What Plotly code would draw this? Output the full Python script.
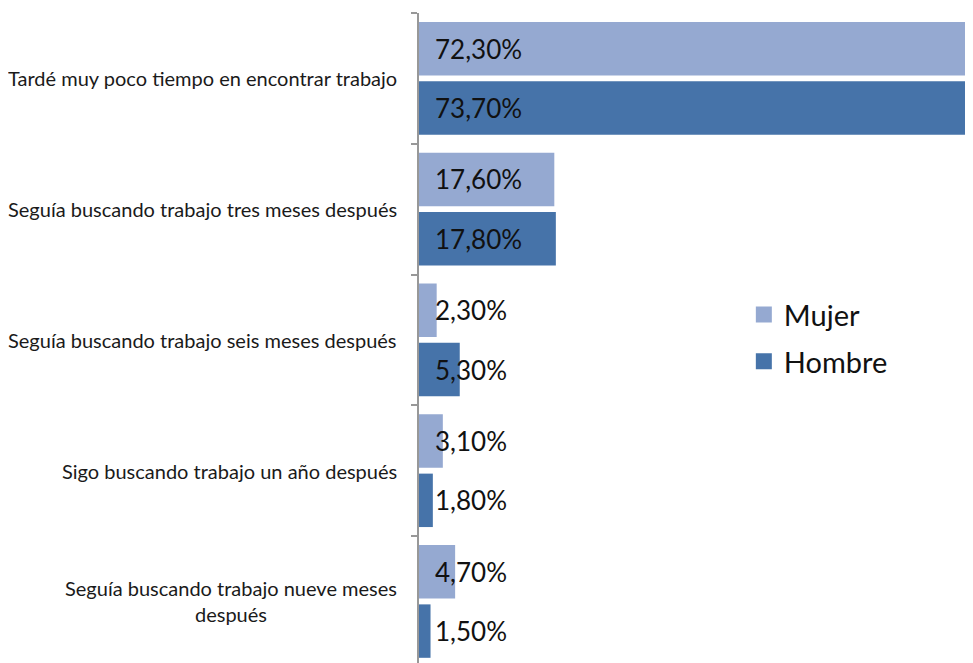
import plotly.graph_objects as go

categories = [
    "Tardé muy poco tiempo en encontrar trabajo",
    "Seguía buscando trabajo tres meses después",
    "Seguía buscando trabajo seis meses después",
    "Sigo buscando trabajo un año después",
    "Seguía buscando trabajo nueve meses<br>después",
]
mujer = [72.3, 17.6, 2.3, 3.1, 4.7]
hombre = [73.7, 17.8, 5.3, 1.8, 1.5]
series_names = ["Mujer", "Hombre"]
colors = ["#95A9D1", "#4673A9"]

FONT = "Lato"

def fmt(v):
    return f"{v:.2f}".replace(".", ",") + "%"

fig = go.Figure()
for name, vals, col in zip(series_names, [mujer, hombre], colors):
    fig.add_trace(go.Bar(
        y=categories, x=vals, orientation="h", name=name,
        marker=dict(color=col, line=dict(width=0)),
        showlegend=False, hoverinfo="skip",
    ))
for name, col in zip(series_names, colors):
    fig.add_trace(go.Scatter(
        x=[None], y=[None], mode="markers", name=name, legendgroup=name,
        marker=dict(symbol="square", size=18, color=col),
    ))

ann = []
slot = (1 - 0.092) / 2
for i, cat in enumerate(categories):
    ann.append(dict(
        xref="paper", x=0, yref="y", y=i, text=cat, showarrow=False,
        xanchor="right", xshift=-20, align="center",
        font=dict(family=FONT, size=20, color="#1a1a1a"),
    ))
    for k, vals in enumerate([mujer, hombre]):
        off = (k - 0.5) * slot
        ann.append(dict(
            xref="x", x=0, yref="y", y=i + off, text=fmt(vals[i]),
            showarrow=False, xanchor="left", xshift=14,
            font=dict(family=FONT, size=26, color="#111111"),
        ))

fig.update_layout(
    width=973, height=663,
    margin=dict(l=411, r=0, t=5, b=8, autoexpand=False),
    paper_bgcolor="white", plot_bgcolor="white",
    barmode="group", bargap=0.092, bargroupgap=0.1,
    annotations=ann,
    legend=dict(
        x=0.578, y=0.575, xanchor="left", yanchor="top",
        font=dict(family=FONT, size=29, color="#111111"),
        traceorder="grouped", tracegroupgap=6,
        bgcolor="rgba(0,0,0,0)",
    ),
    xaxis=dict(range=[0, 73.1], showgrid=False, zeroline=False,
               showline=False, showticklabels=False, ticks=""),
    yaxis=dict(type="category", range=[4.471, -0.5], showgrid=False,
               zeroline=False, showline=True, linecolor="#989898", linewidth=2,
               ticks="outside", tickson="boundaries", ticklen=6,
               tickcolor="#989898", tickwidth=2, showticklabels=False),
)

fig.write_html("out.html")
